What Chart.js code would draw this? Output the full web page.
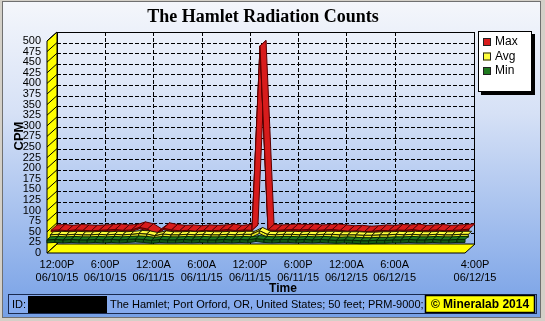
<!DOCTYPE html>
<html><head><meta charset="utf-8">
<script src="https://cdn.jsdelivr.net/npm/chart.js@4.4.0/dist/chart.umd.min.js"></script>
<style>html,body{margin:0;padding:0;background:#d4d0c8;}canvas{display:block;}</style>
</head><body>
<canvas id="c" width="545" height="321"></canvas>
<script>
// ---- data ----
const hours = [0,1,2,3,4,5,6,7,8,9,10,11,12,13,14,15,16,17,18,19,20,21,22,23,24,25,26,27,28,29,30,31,32,33,34,35,36,37,38,39,40,41,42,43,44,45,46,47,48,49,50,51,52];
const maxCPM = [45,46,44,46,45,44,45,46,47,45, 46,52,48,36,50,46,44,45,43,45, 44,45,47,44,46,45,480,46,45,46, 47,46,47,45,46,47,45,43,44,42, 43,45,44,46,45,47,44,45,46,44, 45,46,48];
const avgCPM = [36,37,36,37,36,36,37,36,37,36, 37,39,38,34,38,36,36,37,36,37, 36,36,37,36,37,37,46,37,36,37, 37,36,37,36,37,37,36,36,36,35, 35,36,36,37,36,37,36,36,37,36, 36,37,37];
const minCPM = [31,32,31,32,31,31,32,31,32,31, 32,33,32,30,32,31,31,32,31,32, 31,31,32,31,32,31,34,32,31,32, 32,31,32,31,32,31,30,31,30,29, 29,30,30,31,31,32,31,31,32,31, 31,32,32];
const seriesNames = ['Max','Avg','Min'];
const tickHours = [0,6,12,18,24,30,36,42,52];
const tickLabels = [['12:00P','06/10/15'],['6:00P','06/10/15'],['12:00A','06/11/15'],['6:00A','06/11/15'],['12:00P','06/11/15'],['6:00P','06/11/15'],['12:00A','06/12/15'],['6:00A','06/12/15'],['4:00P','06/12/15']];
const titleText = 'The Hamlet Radiation Counts';
const yTitle = 'CPM';
const xTitle = 'Time';
const infoText = 'The Hamlet; Port Orford, OR, United States; 50 feet; PRM-9000;';
const copyText = '\u00A9 Mineralab 2014';

// ---- styles ----
const fills = ['#d81c1c','#ffff3c','#1f7a1f'];
const sideFills = ['#b01010','#e6e620','#145c14'];
const strokes = ['#5a0000','#202000','#062806'];
const depth = [[0.4,1],[1/3,2/3],[0,1/3]];
const frontH = [1.5,3,3];
const DX = 10, DY = 9;
const SANS = "'Liberation Sans', Arial, sans-serif";

const deco = {
  id:'deco',
  beforeDraw(chart){
    const c = chart.ctx, W = chart.width, H = chart.height;
    c.save();
    c.fillStyle = '#d4d0c8'; c.fillRect(0,0,W,H);
    const g = c.createLinearGradient(0,3,0,317);
    g.addColorStop(0,'#f4f6fb'); g.addColorStop(0.35,'#d6e1f6'); g.addColorStop(1,'#76a0e6');
    c.fillStyle = g; c.fillRect(3,2,537,315);
    c.strokeStyle = '#707070'; c.lineWidth = 1; c.strokeRect(2.5,1.5,538,316);
    // title
    c.fillStyle = '#000'; c.textAlign = 'center'; c.textBaseline = 'middle';
    c.font = "bold 18px 'Liberation Serif', 'Times New Roman', serif";
    c.fillText(titleText, 263, 17);
    // axis titles
    c.font = 'bold 13px ' + SANS;
    c.save(); c.translate(19,136); c.rotate(-Math.PI/2); c.fillText(yTitle,0,0); c.restore();
    c.font = 'bold 12px ' + SANS;
    c.fillText(xTitle, 283, 289);
    // info bar
    c.fillStyle = '#86abee'; c.fillRect(8.5,294.5,528,19);
    c.strokeStyle = '#1a2a50'; c.strokeRect(8.5,294.5,528,19);
    c.fillStyle = '#000'; c.fillRect(28,296,79,17);
    c.textAlign = 'left'; c.font = '11px ' + SANS; c.fillStyle = '#000';
    c.fillText('ID:', 12, 304.5);
    c.fillText(infoText, 110, 304.5);
    c.fillStyle = '#ffff00'; c.fillRect(425.5,295.5,109,17);
    c.strokeStyle = '#000'; c.lineWidth = 1.5; c.strokeRect(425.5,295.5,109,17);
    c.fillStyle = '#000'; c.textAlign = 'center'; c.font = 'bold 12px ' + SANS;
    c.fillText(copyText, 480, 304.5);
    c.restore();
  },
  beforeDatasetsDraw(chart){
    const c = chart.ctx, a = chart.chartArea, ys = chart.scales.y, xs = chart.scales.x;
    const L = a.left, R = a.right, T = a.top, B = a.bottom;
    c.save();
    c.lineWidth = 1; c.strokeStyle = '#000';
    c.setLineDash([4,2]);
    ys.ticks.forEach(t => {
      const y = Math.round(ys.getPixelForValue(t.value) - DY) + 0.5;
      if (t.value <= 0 || t.value >= 500) return;
      c.beginPath(); c.moveTo(L+DX, y); c.lineTo(R+DX, y); c.stroke();
    });
    tickHours.forEach(h => {
      if (h <= 0 || h >= 52) return;
      const x = Math.round(xs.getPixelForValue(h) + DX) + 0.5;
      c.beginPath(); c.moveTo(x, T-DY); c.lineTo(x, B-DY); c.stroke();
    });
    c.setLineDash([]);
    c.strokeRect(L+DX+0.5, T-DY+0.5, R-L-1, B-T);
    // left wall
    c.fillStyle = '#ffff00';
    c.beginPath(); c.moveTo(L,T); c.lineTo(L+DX,T-DY); c.lineTo(L+DX,B-DY); c.lineTo(L,B); c.closePath();
    c.fill(); c.stroke();
    ys.ticks.forEach(t => {
      const y = ys.getPixelForValue(t.value);
      c.beginPath(); c.moveTo(L, y); c.lineTo(L+DX, y-DY); c.stroke();
    });
    // floor
    c.beginPath(); c.moveTo(L,B); c.lineTo(L+DX,B-DY); c.lineTo(R+DX,B-DY); c.lineTo(R,B); c.closePath();
    c.fill(); c.stroke();
    c.restore();
  },
  afterDatasetsDraw(chart){
    const c = chart.ctx;
    c.save(); c.lineWidth = 1; c.lineJoin = 'round';
    [0,1,2].forEach(k => {
      const pts = chart.getDatasetMeta(k).data;
      const [ta, tb] = depth[k];
      const FH = frontH[k];
      for (let i = 0; i < pts.length-1; i++){
        const p = pts[i], q = pts[i+1];
        const A = [p.x+tb*DX, p.y-tb*DY], Bq = [q.x+tb*DX, q.y-tb*DY];
        const C = [q.x+ta*DX, q.y-ta*DY], E = [p.x+ta*DX, p.y-ta*DY];
        c.fillStyle = sideFills[k]; c.strokeStyle = strokes[k];
        c.beginPath(); c.moveTo(E[0],E[1]); c.lineTo(C[0],C[1]); c.lineTo(C[0],C[1]+FH); c.lineTo(E[0],E[1]+FH); c.closePath();
        c.fill(); c.stroke();
        c.fillStyle = fills[k];
        c.beginPath(); c.moveTo(A[0],A[1]); c.lineTo(Bq[0],Bq[1]); c.lineTo(C[0],C[1]); c.lineTo(E[0],E[1]); c.closePath();
        c.fill(); c.stroke();
      }
    });
    c.restore();
  },
  afterDraw(chart){
    const c = chart.ctx;
    c.save();
    c.fillStyle = '#000'; c.fillRect(481,34,54,61);
    c.fillStyle = '#fff'; c.fillRect(478,31,54,61);
    c.strokeStyle = '#000'; c.lineWidth = 1; c.strokeRect(478.5,31.5,53,60);
    c.font = '12px ' + SANS; c.textAlign = 'left'; c.textBaseline = 'middle';
    chart.data.datasets.forEach((ds,k) => {
      const y = 42 + k*14.5;
      c.fillStyle = fills[k]; c.fillRect(483,y-4,8,8);
      c.strokeStyle = '#222'; c.strokeRect(483.5,y-3.5,7,7);
      c.fillStyle = '#000'; c.fillText(ds.label, 495, y);
    });
    c.restore();
  }
};

const seriesData = [maxCPM, avgCPM, minCPM];
new Chart(document.getElementById('c'), {
  type:'line',
  data:{datasets: seriesNames.map((n,k) => ({
    label:n, data: hours.map((h,i) => ({x:h, y:seriesData[k][i]})),
    borderWidth:0, pointRadius:0, showLine:false, backgroundColor:fills[k], borderColor:fills[k]
  }))},
  options:{
    responsive:false, animation:false, devicePixelRatio:1,
    layout:{padding:{left:0,right:80,top:41,bottom:0}},
    plugins:{legend:{display:false}, title:{display:false}, tooltip:{enabled:false}},
    scales:{
      x:{type:'linear', min:0, max:52,
        grid:{display:false, drawTicks:false}, border:{display:false},
        afterBuildTicks: s => { s.ticks = tickHours.map(v => ({value:v})); },
        afterFit: s => { s.height = 68; },
        ticks:{autoSkip:false, maxRotation:0, minRotation:0, labelOffset:10, padding:5, color:'#000',
          font:{family:SANS, size:11},
          callback: v => { const i = tickHours.indexOf(v); return i >= 0 ? tickLabels[i] : ''; }}
      },
      y:{min:0, max:500,
        grid:{display:false, drawTicks:false}, border:{display:false},
        afterFit: s => { s.width = 47; },
        ticks:{stepSize:25, autoSkip:false, padding:6, color:'#000', font:{family:SANS, size:11}}
      }
    }
  },
  plugins:[deco]
});
</script>
</body></html>
